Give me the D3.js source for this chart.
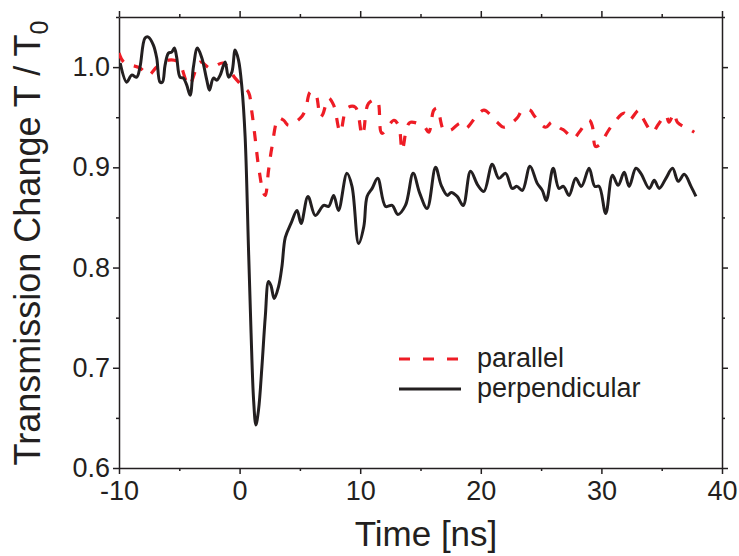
<!DOCTYPE html>
<html>
<head>
<meta charset="utf-8">
<script src="https://cdn.jsdelivr.net/npm/d3@7"></script>
<style>
  html, body { margin: 0; padding: 0; background: #fff; }
  svg { display: block; font-family: "Liberation Sans", Arial, sans-serif; }
</style>
</head>
<body>
<svg id="chart" width="739" height="556"></svg>
<script>
// ---- data ----
const perpTime = [-9.9,-9.36,-8.95,-8.53,-8.26,-7.84,-7.56,-7.15,-6.87,-6.6,-6.4,-6.18,-5.9,-5.63,-5.41,-5.22,-4.94,-4.66,-4.38,-4.1,-3.83,-3.5,-3.13,-2.72,-2.5,-2.17,-1.89,-1.61,-1.2,-0.92,-0.64,-0.37,-0.09,0.19,0.46,0.74,0.95,1.16,1.35,1.57,1.85,2.13,2.4,2.6,2.87,3.23,3.51,3.79,4.26,4.76,5.1,5.67,6.28,6.97,7.38,7.8,8.2,8.9,9.32,9.87,10.3,10.57,10.99,11.45,12.1,12.65,13.12,13.75,14.39,14.94,15.55,16.25,16.72,17.22,17.55,18.04,18.54,19.15,19.76,20.26,20.95,21.5,22.06,22.6,23.0,23.45,24.08,24.68,25.1,25.43,26.0,26.48,26.85,27.32,27.87,28.34,28.98,29.45,29.81,30.36,30.92,31.39,31.89,32.3,32.86,33.27,33.97,34.38,34.8,35.35,35.9,36.37,36.87,37.43,37.84];
const perpValue = [1.004,0.985,0.992,0.990,1.000,1.029,1.030,1.022,1.009,0.985,0.985,1.002,1.014,1.015,1.019,1.010,0.990,0.989,0.982,0.972,1.000,1.019,1.009,0.987,0.977,0.989,0.987,0.992,1.005,0.990,0.995,1.017,1.007,0.980,0.930,0.818,0.735,0.668,0.643,0.658,0.701,0.751,0.786,0.782,0.769,0.781,0.801,0.830,0.844,0.857,0.844,0.871,0.852,0.862,0.861,0.872,0.857,0.894,0.881,0.824,0.841,0.871,0.879,0.889,0.861,0.862,0.853,0.862,0.894,0.874,0.859,0.900,0.882,0.872,0.875,0.871,0.862,0.896,0.882,0.876,0.903,0.889,0.894,0.879,0.881,0.877,0.901,0.884,0.877,0.867,0.899,0.879,0.881,0.872,0.889,0.881,0.899,0.881,0.881,0.854,0.892,0.882,0.895,0.881,0.899,0.894,0.879,0.887,0.879,0.889,0.899,0.886,0.893,0.881,0.871];

const paraTime = [-10.0,-9.6,-8.25,-7.56,-6.87,-5.9,-5.07,-4.2,-3.27,-2.44,-1.34,-0.37,0.33,0.74,1.02,1.3,1.57,1.99,2.13,2.4,2.68,3.23,3.65,4.06,5.03,5.45,5.86,6.28,6.7,6.9,7.38,7.8,8.35,8.9,9.6,10.15,10.3,10.7,11.4,11.8,12.8,13.2,13.48,13.9,14.17,15.28,15.69,16.1,16.38,16.94,17.5,18.3,18.75,19.7,20.26,21.36,21.9,23.0,23.45,24.1,24.4,25.38,25.9,26.6,26.9,27.7,28.15,28.98,29.25,29.5,29.8,30.77,31.9,32.3,33.1,33.4,34.25,34.67,35.35,35.6,36.04,36.3,37.43,37.7];
const paraValue = [1.014,1.005,0.999,0.992,1.000,1.007,1.005,0.982,1.005,0.999,1.004,0.989,0.980,0.975,0.955,0.928,0.901,0.874,0.872,0.897,0.920,0.949,0.947,0.942,0.949,0.957,0.975,0.974,0.950,0.953,0.969,0.962,0.935,0.959,0.960,0.932,0.937,0.964,0.967,0.934,0.947,0.941,0.917,0.941,0.945,0.941,0.935,0.957,0.959,0.937,0.937,0.944,0.939,0.952,0.957,0.945,0.940,0.949,0.957,0.957,0.952,0.940,0.945,0.939,0.937,0.929,0.935,0.947,0.941,0.921,0.922,0.940,0.954,0.947,0.957,0.950,0.935,0.942,0.952,0.945,0.954,0.945,0.937,0.935];

const xTicks = [-10, 0, 10, 20, 30, 40];
const xTickLabels = ["-10", "0", "10", "20", "30", "40"];
const xMinor = [-5, 5, 15, 25, 35];
const yTicks = [0.6, 0.7, 0.8, 0.9, 1.0];
const yTickLabels = ["0.6", "0.7", "0.8", "0.9", "1.0"];
const yMinor = [0.65, 0.75, 0.85, 0.95, 1.05];
const seriesNames = ["parallel", "perpendicular"];

// ---- layout ----
const L = 119, R = 722, T = 17, B = 468;
const axisColor = "#231f20";
const redColor = "#ee1c25";
const blackColor = "#231f20";

const svg = d3.select("#chart");
const x = d3.scaleLinear().domain([-10, 40]).range([L, R]);
const y = d3.scaleLinear().domain([0.6, 1.05]).range([B, T]);

function styleAxis(g) {
  g.selectAll("path.domain").attr("stroke", axisColor).attr("stroke-width", 1.5);
  g.selectAll(".tick line").attr("stroke", axisColor).attr("stroke-width", 1.5);
}

const gB = svg.append("g").attr("transform", `translate(0,${B})`)
  .call(d3.axisBottom(x).tickValues(xTicks).tickSize(6).tickSizeOuter(0).tickPadding(7)
    .tickFormat((d, i) => xTickLabels[i]));
gB.selectAll("text").attr("font-size", 27).attr("fill", axisColor).attr("dy", "0.71em");
styleAxis(gB);
svg.append("g").attr("transform", `translate(0,${B})`)
  .call(d3.axisBottom(x).tickValues(xMinor).tickSize(3).tickSizeOuter(0).tickFormat(""))
  .call(styleAxis).select("path.domain").remove();

const gT = svg.append("g").attr("transform", `translate(0,${T})`)
  .call(d3.axisTop(x).tickValues(xTicks).tickSize(6).tickSizeOuter(0).tickFormat(""));
styleAxis(gT);
svg.append("g").attr("transform", `translate(0,${T})`)
  .call(d3.axisTop(x).tickValues(xMinor).tickSize(3).tickSizeOuter(0).tickFormat(""))
  .call(styleAxis).select("path.domain").remove();

const gL = svg.append("g").attr("transform", `translate(${L},0)`)
  .call(d3.axisLeft(y).tickValues(yTicks).tickSize(6).tickSizeOuter(0).tickPadding(3)
    .tickFormat((d, i) => yTickLabels[i]));
gL.selectAll("text").attr("font-size", 27).attr("fill", axisColor);
styleAxis(gL);
svg.append("g").attr("transform", `translate(${L},0)`)
  .call(d3.axisLeft(y).tickValues(yMinor).tickSize(3).tickSizeOuter(0).tickFormat(""))
  .call(styleAxis).select("path.domain").remove();

const gR = svg.append("g").attr("transform", `translate(${R},0)`)
  .call(d3.axisRight(y).tickValues(yTicks).tickSize(6).tickSizeOuter(0).tickFormat(""));
styleAxis(gR);
svg.append("g").attr("transform", `translate(${R},0)`)
  .call(d3.axisRight(y).tickValues(yMinor).tickSize(3).tickSizeOuter(0).tickFormat(""))
  .call(styleAxis).select("path.domain").remove();

// lines
const line = d3.line().x(d => x(d[0])).y(d => y(d[1])).curve(d3.curveCatmullRom.alpha(0.5));
const perpData = perpTime.map((t, i) => [t, perpValue[i]]);
const paraData = paraTime.map((t, i) => [t, paraValue[i]]);

svg.append("clipPath").attr("id", "clip").append("rect")
  .attr("x", L).attr("y", T).attr("width", R - L).attr("height", B - T);

svg.append("path").datum(paraData).attr("d", line)
  .attr("fill", "none").attr("stroke", redColor).attr("stroke-width", 3.2)
  .attr("stroke-dasharray", "10,11").attr("clip-path", "url(#clip)");
svg.append("path").datum(perpData).attr("d", line)
  .attr("fill", "none").attr("stroke", blackColor).attr("stroke-width", 3)
  .attr("stroke-linejoin", "round").attr("clip-path", "url(#clip)");

// legend
const legend = svg.append("g");
const legItems = [
  { name: seriesNames[0], color: redColor, dash: "11,13", yy: 359 },
  { name: seriesNames[1], color: blackColor, dash: null, yy: 389 }
];
legItems.forEach(it => {
  legend.append("line").attr("x1", 399).attr("x2", 461).attr("y1", it.yy).attr("y2", it.yy)
    .attr("stroke", it.color).attr("stroke-width", 3)
    .attr("stroke-dasharray", it.dash);
  legend.append("text").attr("x", 477).attr("y", it.yy + 8)
    .attr("font-size", 27).attr("fill", axisColor).text(it.name);
});

// axis titles
svg.append("text").attr("x", 426).attr("y", 546).attr("text-anchor", "middle")
  .attr("font-size", 35).attr("fill", axisColor).text("Time [ns]");

const yt = svg.append("text").attr("transform", "translate(40,243) rotate(-90)")
  .attr("text-anchor", "middle").attr("font-size", 36).attr("fill", axisColor);
yt.append("tspan").text("Transmission Change T / T");
yt.append("tspan").attr("font-size", 25).attr("dy", 8).text("0");
</script>
</body>
</html>
